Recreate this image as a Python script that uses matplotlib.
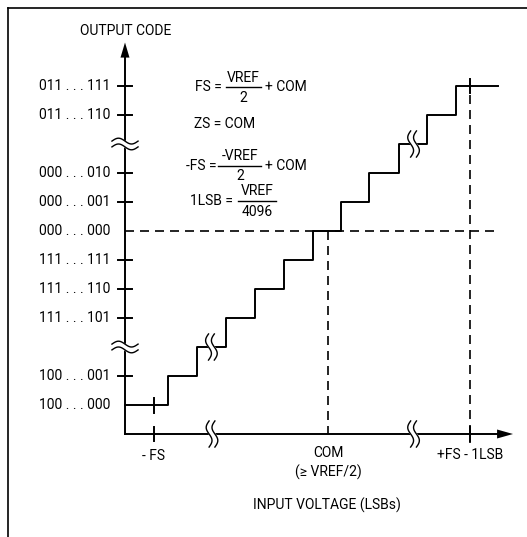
import matplotlib

matplotlib.use("Agg")
import matplotlib.pyplot as plt
import numpy as np

plt.rcParams["font.family"] = ["Roboto", "DejaVu Sans"]

# output codes on the vertical axis (level in LSB steps)
code_labels = [
    "100 . . . 000", "100 . . . 001", "111 . . . 101", "111 . . . 110",
    "111 . . . 111", "000 . . . 000", "000 . . . 001", "000 . . . 010",
    "011 . . . 110", "011 . . . 111",
]
code_levels = [0, 1, 3, 4, 5, 6, 7, 8, 10, 11]
code_ticks = [False, True, True, True, True, False, True, True, True, True]
y_breaks = [2, 9]

# transfer staircase (input in LSBs where the code steps up)
step_edges = [1.48, 2.48, 3.48, 4.48, 5.48, 6.48, 7.45, 8.4, 9.45, 10.42, 11.42]
step_end = 12.85
step_breaks = [(2.98, 2), (9.95, 9)]

# input voltage axis
x_ticks = [1.0, 7.0, 11.9]
x_labels = ["- FS", "COM", "+FS - 1LSB"]
x_breaks = [3.0, 9.95]
zero_code = 6
com_x = 7.0
fs_x = 11.9

S = 29.0  # pixels per LSB
fig = plt.figure(figsize=(5.27, 5.37), dpi=100)
ax = fig.add_axes([0, 0, 1, 1])
ax.set_xlim(-125 / S, 402 / S)
ax.set_ylim(-132 / S, 405 / S)
ax.axis("off")

K = "black"
LW = 1.4
FS_TXT = 10

# frame (left and top only)
ax.plot([-4.03, -4.03], [13.69, -5], color=K, lw=1.2)
ax.plot([-4.03, 15], [13.69, 13.69], color=K, lw=1.2)

# axes with arrows
ax.plot([0, 0], [-1, 12.0], color=K, lw=LW)
ax.plot([0, 12.9], [-1, -1], color=K, lw=LW)
ax.fill([0, -0.155, 0.155], [12.5, 11.98, 11.98], color=K, lw=0)
ax.fill([13.38, 12.83, 12.83], [-1, -0.845, -1.155], color=K, lw=0)

# staircase
xs = [0] + step_edges + [step_end]
ys = list(range(len(step_edges) + 1)) + [len(step_edges)]
ax.step(xs, ys, where="post", color=K, lw=LW)

# dashed guides
dash = dict(color=K, lw=1.2, dashes=(5.4, 3.6))
ax.plot([0, step_end], [zero_code, zero_code], **dash)
ax.plot([com_x, com_x], [zero_code, -1], **dash)
ax.plot([fs_x, fs_x], [11.2, -1.3], **dash)

# tick marks
for lvl, has in zip(code_levels, code_ticks):
    if has:
        ax.plot([-0.24, 0.24], [lvl, lvl], color=K, lw=LW)
for xt in x_ticks:
    if xt != com_x:
        ax.plot([xt, xt], [-0.76, -1.24], color=K, lw=LW)
ax.plot([x_ticks[0], x_ticks[0]], [0.24, -0.28], color=K, lw=LW)
ax.plot([fs_x, fs_x], [11.25, 10.75], color=K, lw=LW)


def vbreak(xc, yc):
    t = np.linspace(0, 1, 60)
    h, a, d = 0.45, 0.1, 0.1
    yy = yc + h - 2 * h * t
    wav = -a * np.sin(2 * np.pi * t)
    ax.fill_betweenx(yy, xc - d + wav, xc + d + wav, color="white", zorder=3)
    ax.plot(xc - d + wav, yy, color=K, lw=1.0, zorder=4)
    ax.plot(xc + d + wav, yy, color=K, lw=1.0, zorder=4)


def hbreak(xc, yc):
    t = np.linspace(0, 1, 60)
    w, a, d = 0.45, 0.1, 0.1
    xx = xc - w + 2 * w * t
    wav = a * np.sin(2 * np.pi * t)
    ax.fill_between(xx, yc - d + wav, yc + d + wav, color="white", zorder=3)
    ax.plot(xx, yc - d + wav, color=K, lw=1.0, zorder=4)
    ax.plot(xx, yc + d + wav, color=K, lw=1.0, zorder=4)


for yb in y_breaks:
    hbreak(0, yb)
for xb in x_breaks:
    vbreak(xb, -1)
for xb, yb in step_breaks:
    vbreak(xb, yb)

# labels
ax.text(0.03, 12.9, "OUTPUT CODE", ha="center", va="center", fontsize=FS_TXT)
for lab, lvl in zip(code_labels, code_levels):
    ax.text(-0.52, lvl, lab, ha="right", va="center", fontsize=FS_TXT)
ax.text(x_ticks[0], -1.76, x_labels[0], ha="center", va="center", fontsize=FS_TXT)
ax.text(x_ticks[1], -1.66, x_labels[1], ha="center", va="center", fontsize=FS_TXT)
ax.text(x_ticks[1], -2.31, "(\u2265 VREF/2)", ha="center", va="center", fontsize=FS_TXT)
ax.text(x_ticks[2], -1.72, x_labels[2], ha="center", va="center", fontsize=FS_TXT)
ax.text(6.97, -3.45, "INPUT VOLTAGE (LSBs)", ha="center", va="center", fontsize=FS_TXT)


def fraction(left, num, den, right, xl, xc, x0, x1, yb):
    ax.text(xl, yb, left, ha="right", va="center", fontsize=FS_TXT)
    ax.text(xc, yb + 0.34, num, ha="center", va="center", fontsize=FS_TXT)
    ax.plot([x0, x1], [yb, yb], color=K, lw=1.0)
    ax.text(xc, yb - 0.36, den, ha="center", va="center", fontsize=FS_TXT)
    if right:
        ax.text(4.83, yb, right, ha="left", va="center", fontsize=FS_TXT)


fraction("FS =", "VREF", "2", "+ COM", 3.34, 4.07, 3.48, 4.69, 10.95)
ax.text(2.38, 9.69, "ZS = COM", ha="left", va="center", fontsize=FS_TXT)
fraction("-FS =", "-VREF", "2", "+ COM", 3.14, 3.97, 3.21, 4.69, 8.24)
fraction("1LSB =", "VREF", "4096", None, 3.72, 4.55, 3.9, 5.2, 7.03)

fig.savefig("out.png", dpi=100)
